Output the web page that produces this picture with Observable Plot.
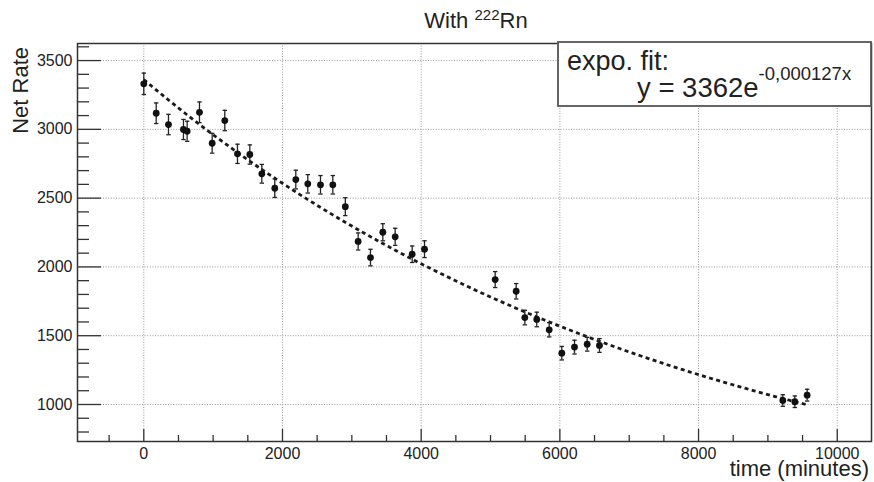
<!DOCTYPE html>
<html>
<head>
<meta charset="utf-8">
<script src="https://cdn.jsdelivr.net/npm/d3@7"></script>
<script src="https://cdn.jsdelivr.net/npm/@observablehq/plot@0.6"></script>
<style>
  html, body { margin: 0; padding: 0; background: #fff; }
  svg { display: block; }
</style>
</head>
<body>
<div id="chart"></div>
<script>
// ---- data ----
const times = [0,179,356,572,625,803,986,1168,1351,1529,1702,1889,2192,2365,2548,2726,2906,3091,3269,3447,3625,3870,4048,5067,5370,5495,5667,5846,6028,6211,6394,6571,9215,9388,9566];
const rates = [3331,3117,3035,2999,2986,3124,2899,3064,2822,2817,2677,2572,2635,2604,2597,2597,2438,2185,2068,2252,2219,2092,2129,1908,1823,1632,1618,1543,1373,1417,1438,1429,1029,1020,1068];
const errors = [78,75,74,73,73,75,72,74,70,70,68,67,68,67,67,67,65,62,60,62,62,60,61,58,56,53,53,52,49,50,50,50,42,42,43];

// fit parameters as printed in the legend
const fitA = 3362;
const fitB = -0.000127;
const fitRange = [0, 9566];

const xMajor = [0, 2000, 4000, 6000, 8000, 10000];
const xMinor = [-500, 500, 1000, 1500, 2500, 3000, 3500, 4500, 5000, 5500, 6500, 7000, 7500, 8500, 9000, 9500];
const yMajor = [1000, 1500, 2000, 2500, 3000, 3500];
const yMinor = [800, 900, 1100, 1200, 1300, 1400, 1600, 1700, 1800, 1900, 2100, 2200, 2300, 2400, 2600, 2700, 2800, 2900, 3100, 3200, 3300, 3400, 3600];

const points = times.map((t, i) => ({t, r: rates[i], e: errors[i]}));
const fitCurve = d3.range(fitRange[0], fitRange[1] + 1, 40).map(t => ({t, r: fitA * Math.exp(fitB * t)}));

const W = 874, H = 482;
const mL = 77, mR = 3, mT = 43, mB = 41;
const fw = W - mL - mR, fh = H - mT - mB;

const capSymbol = { draw(ctx) { ctx.moveTo(-2.2, 0); ctx.lineTo(2.2, 0); } };

const svg = Plot.plot({
  width: W, height: H,
  marginLeft: mL, marginRight: mR, marginTop: mT, marginBottom: mB,
  style: { fontFamily: "'Liberation Sans', Arial, sans-serif", background: "#fff", color: "#222" },
  x: { domain: [-956, 10494] },
  y: { domain: [731, 3624] },
  marks: [
    Plot.ruleX(xMajor, { x: d => d, stroke: "#999", strokeWidth: 1, strokeDasharray: "1,1.6" }),
    Plot.ruleY(yMajor, { y: d => d, stroke: "#999", strokeWidth: 1, strokeDasharray: "1,1.6" }),
    Plot.tickX(xMajor, { x: d => d, insetTop: fh - 12, stroke: "#333", strokeWidth: 1.3 }),
    Plot.tickX(xMinor, { x: d => d, insetTop: fh - 6, stroke: "#333", strokeWidth: 1.3 }),
    Plot.tickY(yMajor, { y: d => d, insetRight: fw - 24, stroke: "#333", strokeWidth: 1.3 }),
    Plot.tickY(yMinor, { y: d => d, insetRight: fw - 12, stroke: "#333", strokeWidth: 1.3 }),
    Plot.axisX({ ticks: xMajor, tickSize: 0, tickPadding: 6, fontSize: 16, tickFormat: d => String(d), label: null }),
    Plot.axisY({ ticks: yMajor, tickSize: 0, tickPadding: 5, fontSize: 16, tickFormat: d => String(d), label: null }),
    Plot.line(fitCurve, { x: "t", y: "r", stroke: "#1a1a1a", strokeWidth: 2.8, strokeDasharray: "4,3.4", strokeLinecap: "butt" }),
    Plot.ruleX(points, { x: "t", y1: d => d.r - d.e, y2: d => d.r + d.e, stroke: "#222", strokeWidth: 1.3 }),
    Plot.dot(points, { x: "t", y: d => d.r + d.e, symbol: capSymbol, r: 2, stroke: "#222", strokeWidth: 1.3, fill: "none" }),
    Plot.dot(points, { x: "t", y: d => d.r - d.e, symbol: capSymbol, r: 2, stroke: "#222", strokeWidth: 1.3, fill: "none" }),
    Plot.dot(points, { x: "t", y: "r", r: 3.4, fill: "#111", stroke: "none" }),
    Plot.frame({ stroke: "#333", strokeWidth: 1.5 })
  ]
});

const s = d3.select(svg);
const ff = "'Liberation Sans', Arial, sans-serif";

// title
const title = s.append("text").attr("x", 476).attr("y", 28).attr("text-anchor", "middle")
  .attr("font-family", ff).attr("font-size", 22).attr("fill", "#222");
title.append("tspan").text("With ");
title.append("tspan").attr("font-size", 15).attr("dy", -8).text("222");
title.append("tspan").attr("dy", 8).text("Rn");

// axis titles
s.append("text").attr("transform", "translate(28,47) rotate(-90)").attr("text-anchor", "end")
  .attr("font-family", ff).attr("font-size", 22).attr("fill", "#222").text("Net Rate");
s.append("text").attr("x", 869).attr("y", 476).attr("text-anchor", "end")
  .attr("font-family", ff).attr("font-size", 22).attr("fill", "#222").text("time (minutes)");

// fit legend box
s.append("rect").attr("x", 558).attr("y", 42).attr("width", 313).attr("height", 64)
  .attr("fill", "#fff").attr("stroke", "#555").attr("stroke-width", 1.8);
s.append("text").attr("x", 567).attr("y", 70).attr("text-anchor", "start").attr("font-family", ff).attr("font-size", 27)
  .attr("fill", "#222").text("expo. fit:");
const eq = s.append("text").attr("x", 637).attr("y", 97).attr("text-anchor", "start").attr("font-family", ff).attr("font-size", 27.5).attr("fill", "#222");
eq.append("tspan").text("y = 3362e");
eq.append("tspan").attr("font-size", 18.5).attr("dy", -17).text("-0,000127x");

document.getElementById("chart").appendChild(svg);
</script>
</body>
</html>
